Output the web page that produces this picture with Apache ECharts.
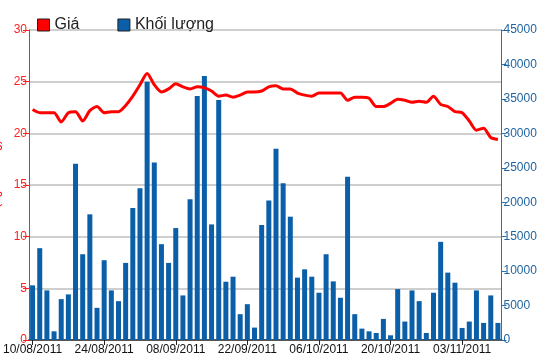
<!DOCTYPE html>
<html>
<head>
<meta charset="utf-8">
<script src="https://cdn.jsdelivr.net/npm/echarts@6/dist/echarts.min.js"></script>
<style>html,body{margin:0;padding:0;background:#fff}#c{width:550px;height:364px}</style>
</head>
<body>
<div id="c"></div>
<script>
var dates = [
 '10/08/2011','11/08/2011','12/08/2011','15/08/2011','16/08/2011','17/08/2011','18/08/2011','19/08/2011','22/08/2011','23/08/2011',
 '24/08/2011','25/08/2011','26/08/2011','29/08/2011','30/08/2011','31/08/2011','01/09/2011','05/09/2011','06/09/2011','07/09/2011',
 '08/09/2011','09/09/2011','12/09/2011','13/09/2011','14/09/2011','15/09/2011','16/09/2011','19/09/2011','20/09/2011','21/09/2011',
 '22/09/2011','23/09/2011','26/09/2011','27/09/2011','28/09/2011','29/09/2011','30/09/2011','03/10/2011','04/10/2011','05/10/2011',
 '06/10/2011','07/10/2011','10/10/2011','11/10/2011','12/10/2011','13/10/2011','14/10/2011','17/10/2011','18/10/2011','19/10/2011',
 '20/10/2011','21/10/2011','24/10/2011','25/10/2011','26/10/2011','27/10/2011','28/10/2011','31/10/2011','01/11/2011','02/11/2011',
 '03/11/2011','04/11/2011','07/11/2011','08/11/2011','09/11/2011','10/11/2011'
];
var price = [
 22.3,22.0,22.0,22.0,21.1,22.0,22.1,21.2,22.2,22.6,
 22.0,22.1,22.1,22.7,23.6,24.7,25.8,24.7,24.0,24.3,
 24.8,24.5,24.3,24.5,24.4,24.1,23.6,23.7,23.5,23.7,
 24.0,24.0,24.1,24.5,24.6,24.3,24.3,23.9,23.7,23.6,
 23.9,23.9,23.9,23.9,23.2,23.5,23.5,23.4,22.6,22.6,
 22.9,23.3,23.2,23.0,23.1,23.0,23.6,22.8,22.6,22.1,
 22.0,21.2,20.3,20.5,19.6,19.4
];
var volume = [
 7930,13330,7200,1260,5930,6620,25590,12450,18240,4670,
 11580,7200,5640,11190,19170,22040,37500,25780,13910,11190,
 16250,6470,20430,35410,38330,16780,34830,8460,9190,3750,
 5200,1800,16690,20240,27780,22770,17900,9050,10260,9190,
 6860,12450,8510,6130,23690,3750,1650,1260,1020,3060,
 680,7390,2680,7200,5640,1020,6860,14250,9780,8320,
 1750,2680,7200,2480,6470,2480
];
var priceTicks = [0,5,10,15,20,25,30];
var volumeTicks = [0,5000,10000,15000,20000,25000,30000,35000,40000,45000];

var chart = echarts.init(document.getElementById('c'), null, {renderer:'canvas'});
var font = 'Liberation Sans, Arial, sans-serif';
chart.setOption({
  animation: false,
  backgroundColor: '#fff',
  legend: {
    left: 32, top: 12, itemWidth: 12, itemHeight: 12, itemGap: 38,
    icon: 'rect',
    itemStyle: {borderColor: '#222', borderWidth: 1},
    textStyle: {fontSize: 16, color: '#222', fontFamily: font},
    data: ['Giá', 'Khối lượng']
  },
  grid: {left: 29, right: 48.5, top: 30, bottom: 24, outerBoundsMode: 'none', containLabel: false},
  xAxis: [{
    type: 'category', data: dates, boundaryGap: true,
    axisLine: {show: true, lineStyle: {color: '#555', width: 1}},
    axisTick: {show: true, interval: 9, alignWithLabel: true, length: 5, lineStyle: {color: '#222'}},
    axisLabel: {interval: 9, color: '#111', fontSize: 12, fontFamily: font, margin: 4},
    splitLine: {show: false}
  }, {
    type: 'category', data: dates, position: 'top', boundaryGap: true,
    axisLine: {show: true, lineStyle: {color: '#555', width: 2}},
    axisTick: {show: false}, axisLabel: {show: false}, splitLine: {show: false}
  }],
  yAxis: [{
    type: 'value', min: priceTicks[0], max: priceTicks[priceTicks.length-1], interval: 5,
    position: 'left',
    name: 'Giá (nghìn đồng)', nameLocation: 'middle', nameGap: 27, nameMoveOverlap: false,
    nameTextStyle: {color: '#ff0000', fontSize: 12, fontFamily: font},
    axisLine: {show: true, lineStyle: {color: '#ff2020', width: 1}},
    axisTick: {show: true, length: 6, lineStyle: {color: '#ff2020'}},
    axisLabel: {color: '#ff2020', fontSize: 12, fontFamily: font, margin: 2},
    splitLine: {show: true, lineStyle: {color: '#cfcfcf', width: 2}}
  }, {
    type: 'value', min: volumeTicks[0], max: volumeTicks[volumeTicks.length-1], interval: 5000,
    position: 'right',
    axisLine: {show: true, lineStyle: {color: '#2a72ad', width: 1}},
    axisTick: {show: true, length: 5, lineStyle: {color: '#2a72ad'}},
    axisLabel: {color: '#1f64a0', fontSize: 12, fontFamily: font, margin: 2,
      formatter: function (v) { return String(v); }},
    splitLine: {show: false}
  }],
  series: [{
    name: 'Khối lượng', type: 'bar', yAxisIndex: 1, xAxisIndex: 0,
    data: volume, barWidth: 5,
    itemStyle: {color: '#0b5fa8'}, z: 2
  }, {
    name: 'Giá', type: 'line', yAxisIndex: 0, xAxisIndex: 0,
    data: price, showSymbol: false, symbol: 'none', smooth: 0.25,
    lineStyle: {color: '#ff0000', width: 3}, itemStyle: {color: '#ff0000'}, z: 3
  }]
});
</script>
</body>
</html>
